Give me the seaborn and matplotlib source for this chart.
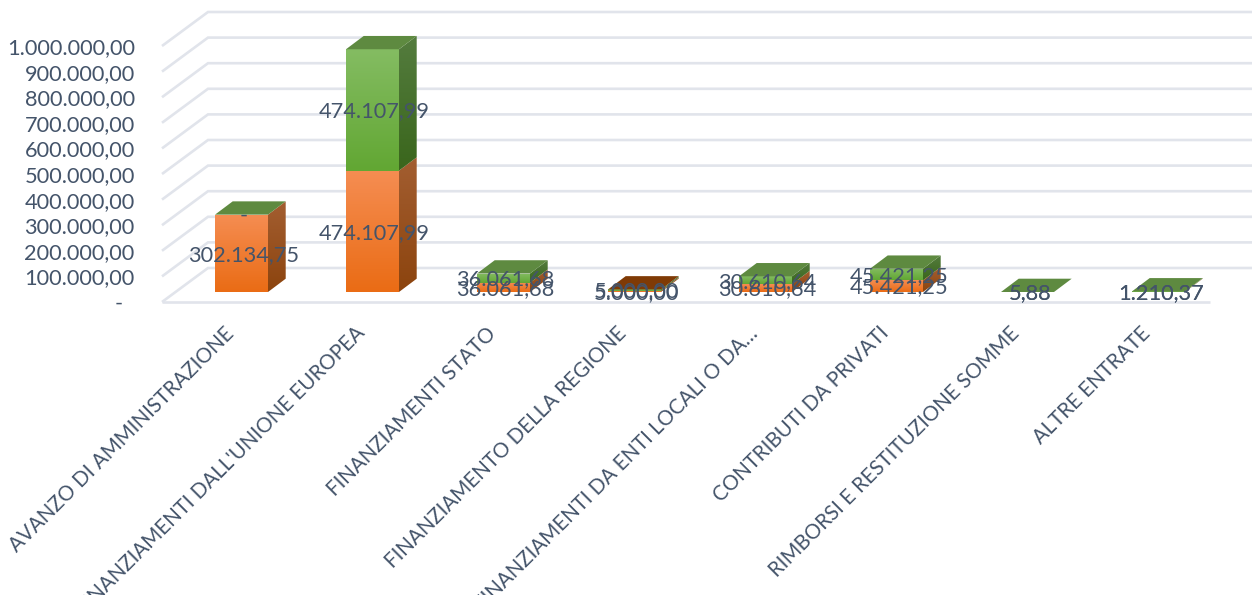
import matplotlib
matplotlib.use("Agg")
import matplotlib.pyplot as plt
import numpy as np
import seaborn as sns
from matplotlib.colors import LinearSegmentedColormap
from matplotlib.patches import Polygon
from matplotlib.transforms import ScaledTranslation

categories = [
    "AVANZO DI AMMINISTRAZIONE",
    "FINANZIAMENTI DALL'UNIONE EUROPEA",
    "FINANZIAMENTI STATO",
    "FINANZIAMENTO DELLA REGIONE",
    "FINANZIAMENTI DA ENTI LOCALI O DA…",
    "CONTRIBUTI DA PRIVATI",
    "RIMBORSI E RESTITUZIONE SOMME",
    "ALTRE ENTRATE",
]
series_orange = [302134.75, 474107.99, 36061.68, 5000.00, 30610.64, 45421.25, 5.88, 1210.37]
series_green = [0.0, 474107.99, 36061.68, 5000.00, 30610.64, 45421.25, 5.88, 1210.37]
tick_values = [0, 100000, 200000, 300000, 400000, 500000, 600000, 700000, 800000, 900000, 1000000]

text_color = "#44546A"
grid_color = "#E1E4EB"
font_size = 15.7

# pixel layout of the fake 3d box
W, H = 1252, 595
left_px, bottom_px = 140, 312
px_per_cat = 131.0
px_per_val = 0.000256
first_center_px = 241.5
bar_base_px = 292
floor_px = 302


def cat_x(px):
    return (px - first_center_px) / px_per_cat


def val_y(px, base):
    return (base - px) / px_per_val


def italian(v):
    if v == 0:
        return "-"
    return f"{v:,.2f}".replace(",", "#").replace(".", ",").replace("#", ".")


def gradient(ax, verts, top, bottom, z):
    verts = np.array(verts)
    cmap = LinearSegmentedColormap.from_list("g", [bottom, top])
    img = ax.imshow(np.linspace(1, 0, 64).reshape(-1, 1), cmap=cmap, aspect="auto", zorder=z, interpolation="bilinear",
                    extent=(verts[:, 0].min(), verts[:, 0].max(), verts[:, 1].min(), verts[:, 1].max()))
    clip = Polygon(verts, transform=ax.transData, facecolor="none", edgecolor="none")
    ax.add_patch(clip)
    img.set_clip_path(clip)


def main():
    sns.set_theme(style="white")
    plt.rcParams["font.family"] = ["Lato", "DejaVu Sans"]

    fig = plt.figure(figsize=(W / 100, H / 100), dpi=100, facecolor="white")
    rect = [left_px / W, 1 - bottom_px / H, (W - left_px) / W, bottom_px / H]
    ax_wall = fig.add_axes(rect, label="wall")
    ax = fig.add_axes(rect, label="bars", facecolor="none")

    xlim = (cat_x(left_px), cat_x(W))

    # back wall: gridlines + floor
    ax_wall.set_xlim(xlim)
    ax_wall.set_ylim(val_y(bottom_px, floor_px), val_y(0, floor_px))
    front_x = cat_x(162)
    back_x = cat_x(208)
    end_x = cat_x(W + 10)
    floor_end_x = cat_x(1210)
    depth_y = 34 / px_per_val
    for v in tick_values:
        ax_wall.plot([front_x, back_x, end_x], [v, v + depth_y, v + depth_y], color=grid_color, lw=1.9, zorder=1,
                     solid_capstyle="butt", solid_joinstyle="miter", clip_on=True)
    ax_wall.plot([front_x, floor_end_x], [0, 0], color=grid_color, lw=1.9, zorder=1, solid_capstyle="butt")
    ax_wall.set_yticks(tick_values)
    # the zero tick keeps the accounting format's trailing gap
    ax_wall.set_yticklabels([italian(v) if v else "-\u00a0\u00a0" for v in tick_values])
    ax_wall.set_xticks([])
    ax_wall.tick_params(axis="y", length=0, pad=3.8, labelsize=font_size, labelcolor=text_color)
    sns.despine(ax=ax_wall, left=True, bottom=True)

    # front faces
    bar_w = 53 / px_per_cat
    sns.barplot(x=categories, y=series_orange, color="#F07D2E", saturation=1, width=bar_w, ax=ax, linewidth=0)
    n_orange = len(ax.patches)
    sns.barplot(x=categories, y=series_green, color="#6FAE40", saturation=1, width=bar_w, ax=ax, linewidth=0,
                bottom=series_orange)
    orange_bars = list(ax.patches[:n_orange])
    green_bars = list(ax.patches[n_orange:])

    ax.set_xlim(xlim)
    ylim = (val_y(bottom_px, bar_base_px), val_y(0, bar_base_px))
    ax.set_ylim(ylim)

    dx = 17.7 / px_per_cat
    dy = 13.3 / px_per_val
    for i in range(len(categories)):
        for bar, front, side in [
            (orange_bars[i], ("#F58D52", "#EA6C15"), ("#A35E31", "#8C440E")),
            (green_bars[i], ("#84BC62", "#62A733"), ("#547C3E", "#3A661C")),
        ]:
            x0, y0, w, h = bar.get_x(), bar.get_y(), bar.get_width(), bar.get_height()
            if h <= 0:
                continue
            gradient(ax, [(x0, y0), (x0 + w, y0), (x0 + w, y0 + h), (x0, y0 + h)], front[0], front[1], 3)
            gradient(ax, [(x0 + w, y0), (x0 + w + dx, y0 + dy), (x0 + w + dx, y0 + h + dy), (x0 + w, y0 + h)],
                     side[0], side[1], 3)
        top_bar = green_bars[i]
        x0, w = top_bar.get_x(), top_bar.get_width()
        y1 = top_bar.get_y() + top_bar.get_height()
        top_color = "#7F3A05" if i == 3 else "#5E8A40"
        ax.add_patch(Polygon([(x0, y1), (x0 + w, y1), (x0 + w + dx, y1 + dy), (x0 + dx, y1 + dy)],
                             facecolor=top_color, edgecolor="none", zorder=3))

        for bar, v in [(orange_bars[i], series_orange[i]), (green_bars[i], series_green[i])]:
            ax.annotate(italian(v), (bar.get_x() + bar.get_width() / 2, bar.get_y() + bar.get_height() / 2),
                        xytext=(1.5, -1.0), textcoords="offset points", ha="center", va="center",
                        color=text_color, fontsize=font_size, zorder=6)

    ax.set_ylim(ylim)
    ax.set_xlim(xlim)
    ax.set_yticks([])
    ax.set_xlabel("")
    ax.set_ylabel("")
    ax.set_xticks(range(len(categories)))
    ax.set_xticklabels(categories, rotation=45, ha="right", rotation_mode="anchor", color=text_color, fontsize=14.8)
    ax.tick_params(axis="x", length=0, pad=8)
    shift = ScaledTranslation(-18 / 100, 0, fig.dpi_scale_trans)
    for lab in ax.get_xticklabels():
        lab.set_transform(lab.get_transform() + shift)
    sns.despine(ax=ax, left=True, bottom=True)

    fig.savefig("out.png", dpi=100)


if __name__ == "__main__":
    main()
